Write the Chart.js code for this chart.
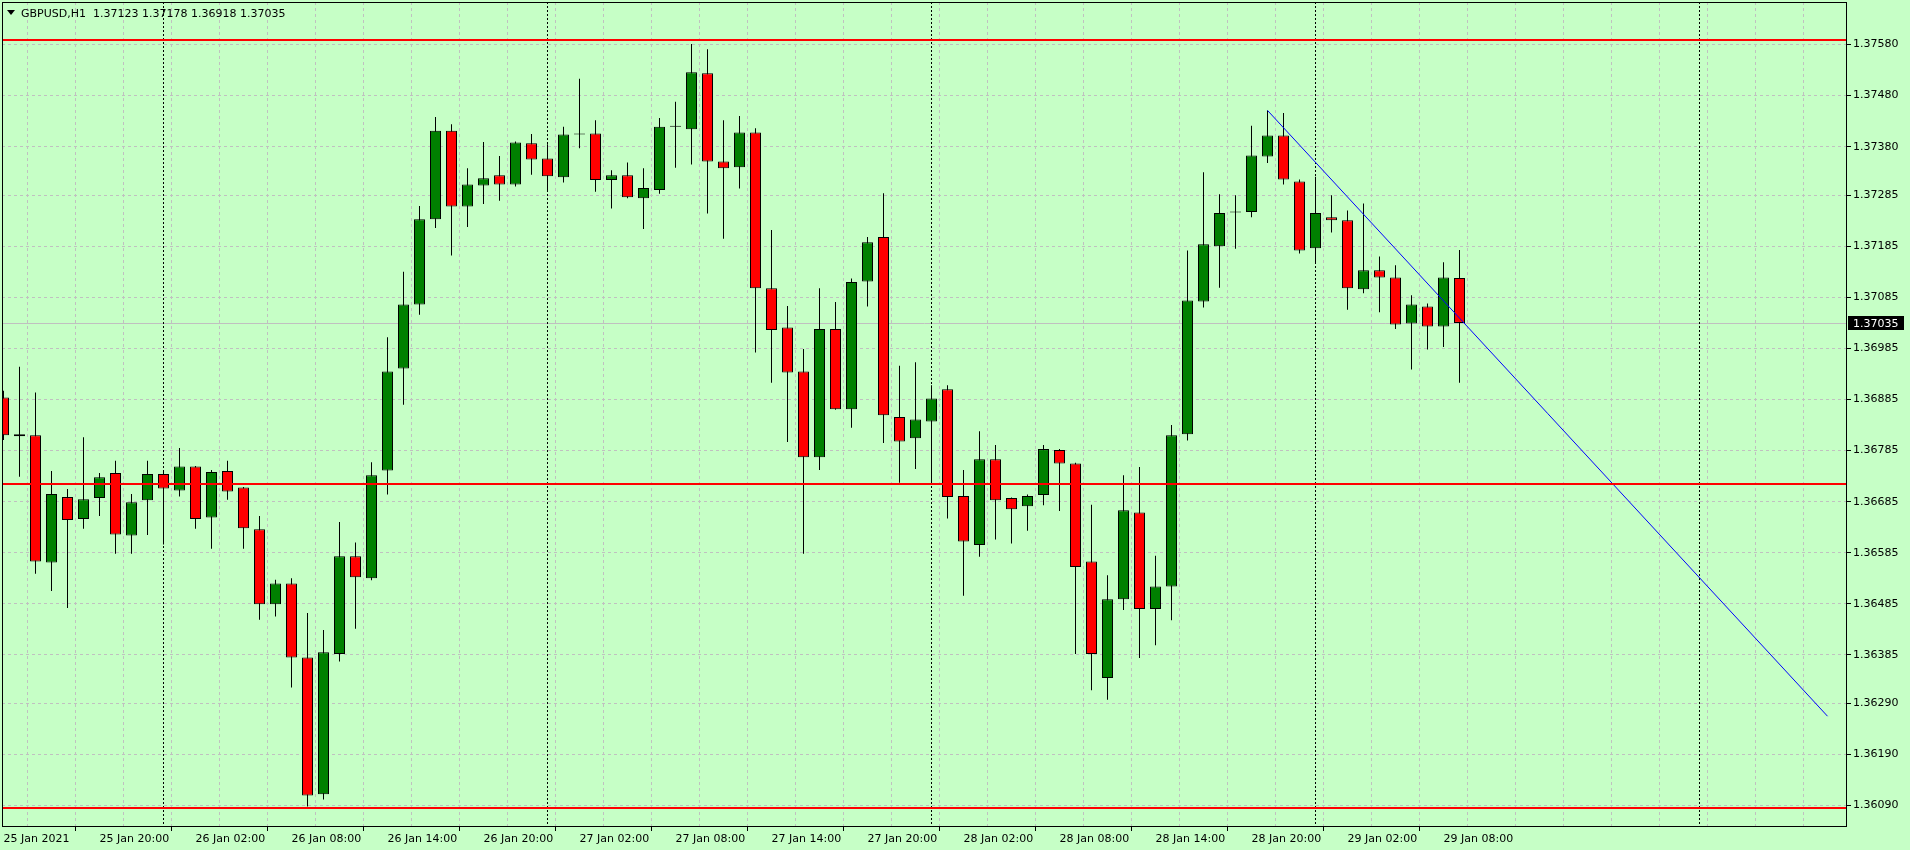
<!DOCTYPE html>
<html>
<head>
<meta charset="utf-8">
<title>GBPUSD,H1</title>
<script src="https://cdn.jsdelivr.net/npm/chart.js@4.4.1/dist/chart.umd.min.js"></script>
<style>
  html, body { margin: 0; padding: 0; background: #c6ffc6; }
  #wrap { position: relative; width: 1910px; height: 850px; }
</style>
</head>
<body>
<div id="wrap"><canvas id="chart" width="1910" height="850"></canvas></div>
<script>
// GBPUSD H1, bars from 25 Jan 14:00 (index 0) to 29 Jan 09:00 (index 91)
const opens = [
  1.36889, 1.36813, 1.36815, 1.36566, 1.36694, 1.36651, 1.36692, 1.36741, 1.36619, 1.36688,
  1.36739, 1.36707, 1.36754, 1.36654, 1.36745, 1.36713, 1.36631, 1.36484, 1.36525, 1.36380,
  1.36112, 1.36387, 1.36578, 1.36535, 1.36746, 1.36946, 1.37071, 1.37238, 1.37411, 1.37263,
  1.37304, 1.37324, 1.37306, 1.37387, 1.37357, 1.37320, 1.37404, 1.37406, 1.37315, 1.37324,
  1.37279, 1.37295, 1.37419, 1.37414, 1.37524, 1.37351, 1.37340, 1.37408, 1.37103, 1.37026,
  1.36940, 1.36772, 1.37023, 1.36866, 1.37116, 1.37203, 1.36851, 1.36809, 1.36842, 1.36905,
  1.36696, 1.36600, 1.36768, 1.36692, 1.36676, 1.36698, 1.36786, 1.36760, 1.36568, 1.36340,
  1.36494, 1.36664, 1.36475, 1.36519, 1.36817, 1.37077, 1.37185, 1.37251, 1.37252, 1.37361,
  1.37402, 1.37312, 1.37181, 1.37242, 1.37236, 1.37101, 1.37138, 1.37124, 1.37034, 1.37067,
  1.37028, 1.37123
];
const highs = [
  1.36902, 1.36949, 1.36899, 1.36745, 1.36710, 1.36811, 1.36741, 1.36765, 1.36700, 1.36765,
  1.36743, 1.36790, 1.36755, 1.36747, 1.36765, 1.36714, 1.36657, 1.36532, 1.36535, 1.36467,
  1.36434, 1.36645, 1.36605, 1.36762, 1.37007, 1.37135, 1.37264, 1.37438, 1.37424, 1.37338,
  1.37389, 1.37362, 1.37390, 1.37405, 1.37385, 1.37419, 1.37513, 1.37432, 1.37334, 1.37349,
  1.37338, 1.37436, 1.37468, 1.37581, 1.37571, 1.37432, 1.37440, 1.37416, 1.37217, 1.37068,
  1.36984, 1.37103, 1.37076, 1.37122, 1.37203, 1.37289, 1.36951, 1.36958, 1.36913, 1.36913,
  1.36747, 1.36823, 1.36796, 1.36693, 1.36699, 1.36796, 1.36788, 1.36761, 1.36679, 1.36541,
  1.36737, 1.36753, 1.36579, 1.36835, 1.37177, 1.37330, 1.37287, 1.37285, 1.37421, 1.37451,
  1.37446, 1.37316, 1.37321, 1.37285, 1.37255, 1.37269, 1.37165, 1.37148, 1.37089, 1.37073,
  1.37154, 1.37178
];
const lows = [
  1.36806, 1.36734, 1.36544, 1.36510, 1.36477, 1.36632, 1.36657, 1.36583, 1.36583, 1.36620,
  1.36601, 1.36695, 1.36632, 1.36593, 1.36689, 1.36593, 1.36454, 1.36460, 1.36321, 1.36088,
  1.36102, 1.36372, 1.36436, 1.36531, 1.36699, 1.36875, 1.37051, 1.37221, 1.37167, 1.37223,
  1.37268, 1.37274, 1.37302, 1.37325, 1.37295, 1.37310, 1.37377, 1.37292, 1.37259, 1.37279,
  1.37219, 1.37288, 1.37339, 1.37345, 1.37249, 1.37200, 1.37298, 1.36977, 1.36918, 1.36802,
  1.36583, 1.36747, 1.36865, 1.36830, 1.37067, 1.36800, 1.36722, 1.36749, 1.36719, 1.36652,
  1.36501, 1.36577, 1.36611, 1.36603, 1.36628, 1.36678, 1.36667, 1.36387, 1.36316, 1.36297,
  1.36473, 1.36379, 1.36404, 1.36453, 1.36805, 1.37065, 1.37104, 1.37180, 1.37242, 1.37348,
  1.37306, 1.37171, 1.37154, 1.37212, 1.37061, 1.37093, 1.37056, 1.37023, 1.36944, 1.36983,
  1.36988, 1.36918
];
const closes = [
  1.36815, 1.36817, 1.36568, 1.36700, 1.36649, 1.36690, 1.36733, 1.36621, 1.36684, 1.36739,
  1.36711, 1.36754, 1.36651, 1.36743, 1.36705, 1.36633, 1.36484, 1.36525, 1.36380, 1.36110,
  1.36390, 1.36578, 1.36537, 1.36737, 1.36940, 1.37071, 1.37238, 1.37411, 1.37263, 1.37306,
  1.37318, 1.37306, 1.37388, 1.37355, 1.37322, 1.37404, 1.37405, 1.37315, 1.37324, 1.37281,
  1.37299, 1.37419, 1.37421, 1.37526, 1.37351, 1.37338, 1.37408, 1.37103, 1.37021, 1.36938,
  1.36772, 1.37023, 1.36866, 1.37115, 1.37193, 1.36854, 1.36803, 1.36846, 1.36887, 1.36694,
  1.36607, 1.36768, 1.36688, 1.36670, 1.36696, 1.36788, 1.36760, 1.36557, 1.36387, 1.36494,
  1.36668, 1.36475, 1.36519, 1.36815, 1.37079, 1.37189, 1.37250, 1.37252, 1.37363, 1.37402,
  1.37316, 1.37177, 1.37250, 1.37236, 1.37103, 1.37138, 1.37124, 1.37032, 1.37071, 1.37028,
  1.37124, 1.37035
];

// time axis labels (bar index -> text)
const tickBars = [0, 6, 12, 18, 24, 30, 36, 42, 48, 54, 60, 66, 72, 78, 84, 90];
const tickLabels = [
  '25 Jan 2021', '25 Jan 20:00', '26 Jan 02:00', '26 Jan 08:00', '26 Jan 14:00', '26 Jan 20:00',
  '27 Jan 02:00', '27 Jan 08:00', '27 Jan 14:00', '27 Jan 20:00', '28 Jan 02:00', '28 Jan 08:00',
  '28 Jan 14:00', '28 Jan 20:00', '29 Jan 02:00', '29 Jan 08:00'
];
const daySeparators = [10, 34, 58, 82, 106];

// price axis labels
const priceTicks = [
  1.37580, 1.37480, 1.37380, 1.37285, 1.37185, 1.37085, 1.36985, 1.36885,
  1.36785, 1.36685, 1.36585, 1.36485, 1.36385, 1.36290, 1.36190, 1.36090
];

// objects on the chart
const levels = [1.37588, 1.36719, 1.36086];
const trendX = [79, 114];
const trendY = [1.37451, 1.36265];
const bid = 1.37035;
const symbolTitle = 'GBPUSD,H1';

const BULL = '#008000';
const BEAR = '#ff0000';
const GRID = '#c0c0c0';

Chart.defaults.font.family = '"DejaVu Sans", Tahoma, sans-serif';
Chart.defaults.font.size = 11;
Chart.defaults.color = '#000';

const mt4Overlay = {
  id: 'mt4Overlay',
  beforeDatasetsDraw(chart) {
    const { ctx, chartArea: a, scales: { x, y } } = chart;
    ctx.save();
    ctx.beginPath();
    ctx.rect(a.left, a.top, a.right - a.left, a.bottom - a.top);
    ctx.clip();
    // bid line
    const by = Math.round(y.getPixelForValue(bid)) + 0.5;
    ctx.strokeStyle = GRID;
    ctx.lineWidth = 1;
    ctx.beginPath();
    ctx.moveTo(a.left, by);
    ctx.lineTo(a.right, by);
    ctx.stroke();
    // day separators
    ctx.strokeStyle = '#000';
    ctx.setLineDash([2, 2]);
    daySeparators.forEach(i => {
      const px = Math.floor(x.getPixelForValue(i)) + 0.5;
      ctx.beginPath();
      ctx.moveTo(px, a.top);
      ctx.lineTo(px, a.bottom);
      ctx.stroke();
    });
    ctx.restore();
  },
  afterDatasetsDraw(chart) {
    const { ctx, chartArea: a, scales: { y } } = chart;
    ctx.save();
    ctx.strokeStyle = '#ff0000';
    ctx.lineWidth = 2;
    levels.forEach(v => {
      const py = Math.round(y.getPixelForValue(v));
      ctx.beginPath();
      ctx.moveTo(a.left, py);
      ctx.lineTo(a.right, py);
      ctx.stroke();
    });
    // frame
    ctx.strokeStyle = '#000';
    ctx.lineWidth = 1;
    ctx.strokeRect(a.left + 0.5, a.top + 0.5, a.right - a.left - 1, a.bottom - a.top - 1);
    ctx.restore();
  },
  afterDraw(chart) {
    const { ctx, chartArea: a, scales: { y } } = chart;
    ctx.save();
    ctx.font = '11px "DejaVu Sans"';
    // current price box
    const py = Math.round(y.getPixelForValue(bid));
    ctx.fillStyle = '#000';
    ctx.fillRect(a.right + 1, py - 7, 56, 14);
    ctx.fillStyle = '#fff';
    ctx.textBaseline = 'alphabetic';
    ctx.fillText(bid.toFixed(5), a.right + 6, py + 4);
    // title
    ctx.fillStyle = '#000';
    ctx.beginPath();
    ctx.moveTo(7, 10);
    ctx.lineTo(15, 10);
    ctx.lineTo(11, 15);
    ctx.closePath();
    ctx.fill();
    const last = opens.length - 1;
    const ohlc = [opens[last], highs[last], lows[last], closes[last]].map(v => v.toFixed(5)).join(' ');
    ctx.fillText(symbolTitle + '  ' + ohlc, 21, 17);
    ctx.restore();
  }
};

const gridBars = [];
for (let i = 0; i <= 114; i += 3) gridBars.push(i);

new Chart(document.getElementById('chart'), {
  type: 'bar',
  data: {
    datasets: [
      {
        label: 'trend',
        type: 'line',
        data: trendX.map((v, i) => ({ x: v, y: trendY[i] })),
        borderColor: '#0000ff',
        borderWidth: 1,
        pointRadius: 0,
        tension: 0,
        fill: false,
        order: 0,
        clip: 0
      },
      {
        label: 'body',
        data: opens.map((o, i) => ({ x: i, y: [o, closes[i]] })),
        backgroundColor: opens.map((o, i) => closes[i] > o ? BULL : BEAR),
        borderColor: '#000',
        borderWidth: 1,
        borderSkipped: false,
        barThickness: 11,
        minBarLength: 1,
        inflateAmount: 0,
        grouped: false,
        order: 1,
        clip: 0
      },
      {
        label: 'wick',
        data: lows.map((l, i) => ({ x: i, y: [l, highs[i]] })),
        backgroundColor: '#000',
        borderWidth: 0,
        barThickness: 1,
        inflateAmount: 0,
        grouped: false,
        order: 2,
        clip: 0
      }
    ]
  },
  options: {
    responsive: false,
    devicePixelRatio: 1,
    animation: false,
    events: [],
    layout: { padding: { left: 2, top: 2, right: 0, bottom: 0 } },
    plugins: {
      legend: { display: false },
      tooltip: { enabled: false }
    },
    scales: {
      x: {
        type: 'linear',
        offset: false,
        min: -0.09375,
        max: 115.21875,
        border: { display: false, dash: [3, 3] },
        grid: {
          color: GRID,
          tickLength: 4,
          tickColor: c => tickBars.includes(c.tick && c.tick.value) ? '#000' : 'rgba(0,0,0,0)',
          tickBorderDash: []
        },
        ticks: {
          autoSkip: false,
          maxRotation: 0,
          minRotation: 0,
          align: 'start',
          padding: 2,
          color: '#000',
          callback: v => {
            const k = tickBars.indexOf(v);
            return k < 0 ? '' : tickLabels[k];
          }
        },
        afterBuildTicks: s => { s.ticks = gridBars.map(v => ({ value: v })); },
        afterFit: s => { s.height = 23; s.paddingLeft = 0; s.paddingRight = 0; }
      },
      y: {
        type: 'linear',
        position: 'right',
        min: 1.360481,
        max: 1.376633,
        border: { display: false, dash: [3, 3] },
        grid: {
          color: GRID,
          tickLength: 4,
          tickColor: '#000',
          tickBorderDash: []
        },
        ticks: {
          autoSkip: false,
          padding: 2,
          color: '#000',
          callback: v => v.toFixed(5)
        },
        afterBuildTicks: s => { s.ticks = priceTicks.map(v => ({ value: v })); },
        afterFit: s => { s.width = 63; s.paddingTop = 0; s.paddingBottom = 0; }
      }
    }
  },
  plugins: [mt4Overlay]
});
</script>
</body>
</html>
